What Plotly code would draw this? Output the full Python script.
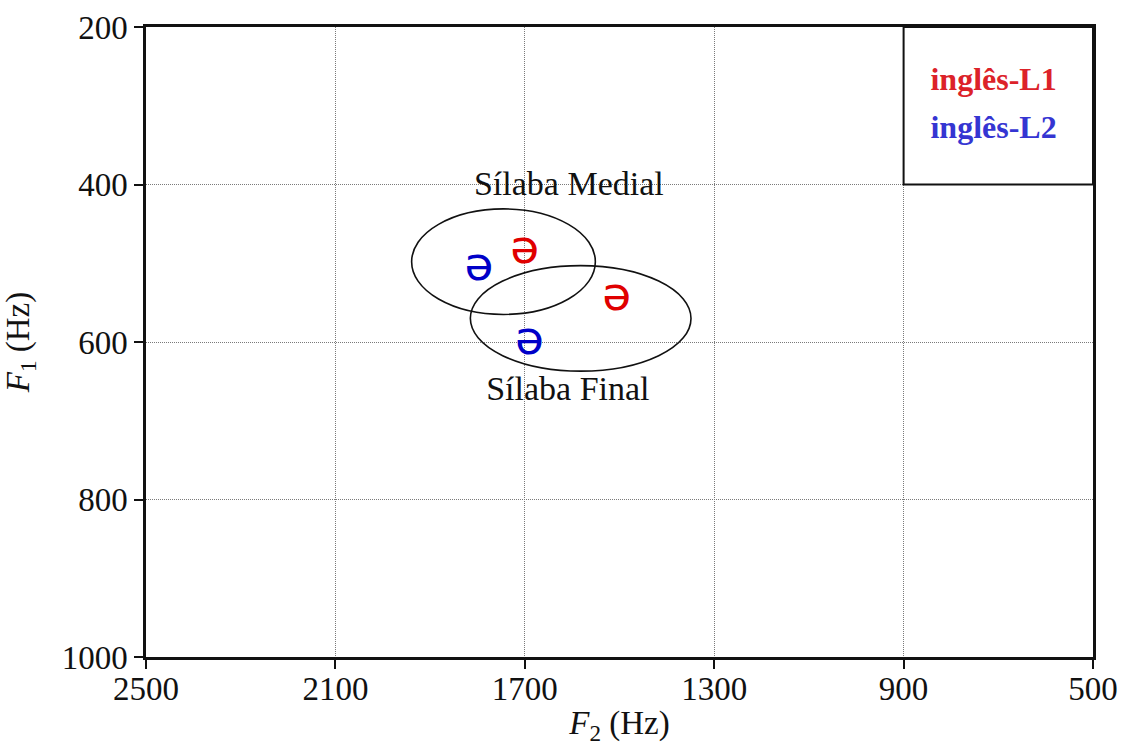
import plotly.graph_objects as go

# ---- data ----
groups = ["inglês-L1", "inglês-L2"]
group_colors = ["#e00000", "#0000c8"]
legend_colors = ["#dc2229", "#3535d2"]
# vowel means (F2, F1) per group
l1_f2 = [1700, 1506]
l1_f1 = [485, 545]
l2_f2 = [1797, 1690]
l2_f1 = [506, 600]
vowel_symbol = "ə"

# dispersion ellipses: center F2, center F1, radius F2, radius F1
ellipse_names = ["Sílaba Medial", "Sílaba Final"]
ell_cx = [1745, 1582]
ell_cy = [498, 570]
ell_rx = [194, 233]
ell_ry = [67, 67]
label_x = [1607, 1609]
label_y = [402, 663]

x_ticks = [2500, 2100, 1700, 1300, 900, 500]
y_ticks = [200, 400, 600, 800, 1000]

legend_box_x = [900, 500]
legend_box_y = [200, 400]
legend_text_x = [710, 710]
legend_text_y = [270, 331]

serif = "Liberation Serif, Times New Roman, serif"
vfont = "DejaVu Sans, sans-serif"

fig = go.Figure()

fig.add_trace(go.Scatter(
    x=l1_f2, y=l1_f1, mode="text", text=[vowel_symbol] * len(l1_f2),
    textposition="middle center",
    textfont=dict(family=vfont, size=47, color=group_colors[0]),
    showlegend=False, hoverinfo="skip"))
fig.add_trace(go.Scatter(
    x=l2_f2, y=l2_f1, mode="text", text=[vowel_symbol] * len(l2_f2),
    textposition="middle center",
    textfont=dict(family=vfont, size=47, color=group_colors[1]),
    showlegend=False, hoverinfo="skip"))

fig.add_trace(go.Scatter(
    x=label_x, y=label_y, mode="text", text=ellipse_names,
    textposition="middle center",
    textfont=dict(family=serif, size=34, color="#111"),
    showlegend=False, hoverinfo="skip"))

fig.add_trace(go.Scatter(
    x=legend_text_x, y=legend_text_y, mode="text",
    text=["<b>%s</b>" % g for g in groups],
    textposition="middle center",
    textfont=dict(family=serif, size=32, color=legend_colors),
    showlegend=False, hoverinfo="skip"))

shapes = []
for cx, cy, rx, ry in zip(ell_cx, ell_cy, ell_rx, ell_ry):
    shapes.append(dict(type="circle", xref="x", yref="y",
                       x0=cx - rx, x1=cx + rx, y0=cy - ry, y1=cy + ry,
                       line=dict(color="#111", width=1.6), layer="above"))
shapes.append(dict(type="rect", xref="x", yref="y",
                   x0=legend_box_x[0], x1=legend_box_x[1],
                   y0=legend_box_y[0], y1=legend_box_y[1],
                   line=dict(color="#111", width=2), layer="above"))

axis_common = dict(
    showline=True, linecolor="#111", linewidth=2.5, mirror=True,
    showgrid=True, gridcolor="#7a7a7a", gridwidth=1, griddash="1px,1px",
    ticks="outside", ticklen=9, tickwidth=2, tickcolor="#111",
    tickfont=dict(family=serif, size=33, color="#111"),
    zeroline=False, automargin=False,
)

fig.update_layout(
    width=1127, height=746,
    margin=dict(l=146, r=34, t=27, b=89),
    paper_bgcolor="white", plot_bgcolor="white",
    shapes=shapes,
    xaxis=dict(range=[2500, 500], tickvals=x_ticks, ticktext=[str(v) for v in x_ticks],
               title=dict(text="<i>F</i><sub>2</sub> (Hz)", font=dict(family=serif, size=33, color="#111"),
                          standoff=12),
               ticklabelstandoff=-8,
               **axis_common),
    yaxis=dict(range=[1000, 200], tickvals=y_ticks, ticktext=[str(v) for v in y_ticks],
               title=dict(text="<i>F</i><sub>1</sub> (Hz)", font=dict(family=serif, size=33, color="#111"),
                          standoff=30),
               **axis_common),
)

fig.write_html("out.html")
